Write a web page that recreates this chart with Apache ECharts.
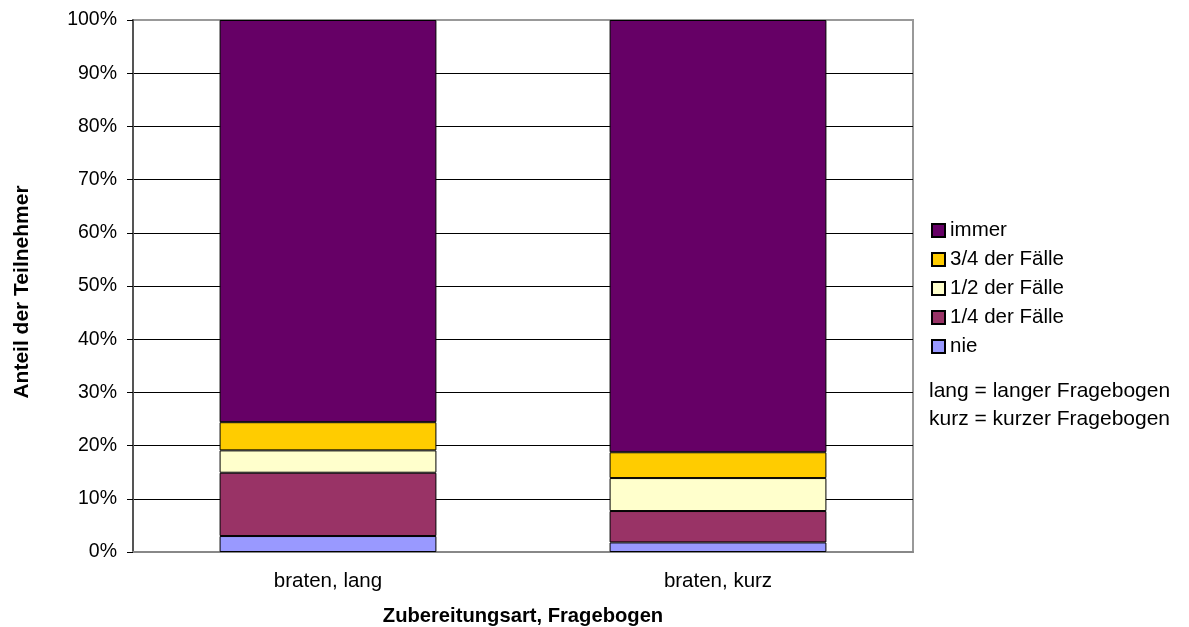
<!DOCTYPE html>
<html>
<head>
<meta charset="utf-8">
<script src="https://cdn.jsdelivr.net/npm/echarts@6/dist/echarts.min.js"></script>
<style>html,body{margin:0;padding:0;background:#fff}#c{width:1189px;height:627px}</style>
</head>
<body>
<div id="c"></div>
<script>
var categories = ['braten, lang', 'braten, kurz'];
var seriesNames = ['nie', '1/4 der Fälle', '1/2 der Fälle', '3/4 der Fälle', 'immer'];
var nie = [3.0, 1.8];
var viertel = [11.9, 5.9];
var halb = [4.2, 6.2];
var dreiviertel = [5.3, 4.85];
var immer = [75.6, 81.25];
var colors = ['#9999FF', '#993366', '#FFFFCC', '#FFCC00', '#660066'];
var yTicks = {min: 0, max: 100, interval: 10};
var notes = ['lang = langer Fragebogen', 'kurz = kurzer Fragebogen'];

var values = [nie, viertel, halb, dreiviertel, immer];
var FONT = 'Liberation Sans, Arial, sans-serif';

var chart = echarts.init(document.getElementById('c'), null, {renderer: 'canvas'});
var series = seriesNames.map(function (n, i) {
  return {
    name: n, type: 'bar', stack: 'all', barWidth: '55.6%',
    data: values[i],
    itemStyle: {color: colors[i], borderColor: '#000', borderWidth: 1},
    emphasis: {disabled: true}
  };
});
chart.setOption({
  animation: false,
  textStyle: {fontFamily: FONT},
  grid: {left: 133, right: 276, top: 20, bottom: 75, show: true, borderColor: '#999', borderWidth: 2,
    containLabel: false, outerBoundsMode: 'none'},
  xAxis: {
    type: 'category', data: categories,
    axisLine: {lineStyle: {color: '#888', width: 2}},
    axisTick: {show: false},
    axisLabel: {color: '#000', fontSize: 20.5, margin: 19, fontFamily: FONT},
    name: 'Zubereitungsart, Fragebogen', nameLocation: 'middle', nameGap: 54,
    nameTextStyle: {color: '#000', fontSize: 20.2, fontWeight: 'bold', fontFamily: FONT}
  },
  yAxis: {
    type: 'value', min: yTicks.min, max: yTicks.max, interval: yTicks.interval,
    axisLine: {show: true, lineStyle: {color: '#555', width: 2}},
    axisTick: {show: true, length: 6, lineStyle: {color: '#000'}},
    axisLabel: {color: '#000', fontSize: 19.5, margin: 16, formatter: '{value}%', fontFamily: FONT},
    splitLine: {show: true, showMaxLine: false, lineStyle: {color: '#000', width: 1}},
    name: 'Anteil der Teilnehmer', nameLocation: 'middle', nameGap: 100,
    nameTextStyle: {color: '#000', fontSize: 21, fontWeight: 'bold', fontFamily: FONT, padding: [0, 12, 0, 0]}
  },
  legend: {
    orient: 'vertical', left: 931, top: 220, padding: 0,
    data: seriesNames.slice().reverse(),
    itemWidth: 13, itemHeight: 13, itemGap: 8,
    icon: 'rect',
    textStyle: {color: '#000', fontSize: 20.5, fontFamily: FONT},
    selectedMode: false
  },
  title: notes.map(function (t, i) {
    return {text: t, left: 929, top: 381 + i * 28,
      textStyle: {color: '#000', fontSize: 21, fontWeight: 'normal', fontFamily: FONT}, padding: 0};
  }),
  series: series
});
</script>
</body>
</html>
